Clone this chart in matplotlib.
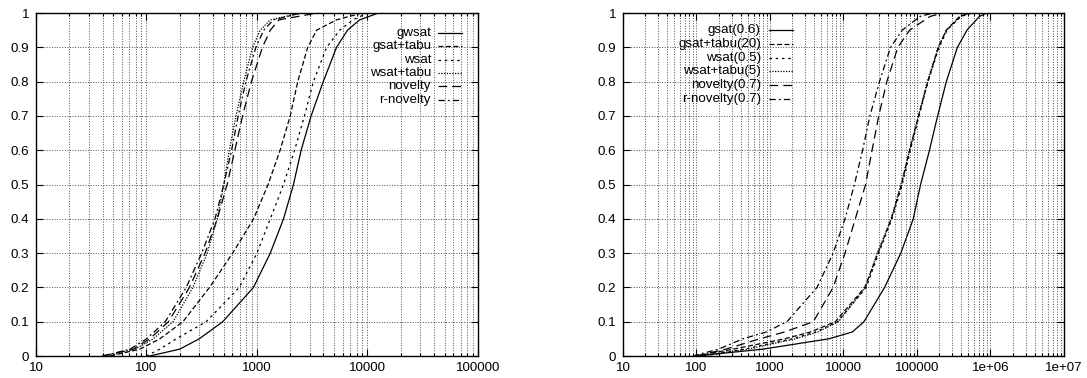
import numpy as np
import matplotlib.pyplot as plt
from matplotlib.ticker import LogLocator, NullFormatter, NullLocator

plt.rcParams['font.family'] = ['Liberation Sans', 'DejaVu Sans']
plt.rcParams['font.size'] = 9.6

# ---- left panel: run-length distributions (x = run length, y = P(solve))
p_left = [0, 0.02, 0.05, 0.1, 0.2, 0.3, 0.4, 0.5, 0.6, 0.7, 0.8, 0.9, 0.95, 0.98, 1.0]
gwsat = [107, 200, 300, 490, 930, 1320, 1740, 2140, 2510, 3090, 3980, 5250, 6600, 8500, 12600]
gsat_tabu = [47, 87, 132, 214, 372, 603, 933, 1260, 1620, 2000, 2340, 2880, 3470, 5250, 8900]
wsat = [100, 132, 186, 347, 692, 1000, 1320, 1740, 2190, 2690, 3240, 4270, 5620, 7400, 10000]
wsat_tabu = [45, 79, 115, 174, 263, 355, 437, 501, 562, 646, 759, 912, 1070, 1320, 2500]
novelty = [40, 76, 107, 158, 245, 339, 437, 537, 631, 741, 891, 1120, 1320, 1580, 3500]
r_novelty = [40, 71, 100, 148, 229, 316, 417, 501, 589, 676, 794, 977, 1150, 1410, 2500]

# ---- right panel
p_right = [0, 0.02, 0.05, 0.07, 0.1, 0.2, 0.3, 0.4, 0.5, 0.6, 0.7, 0.8, 0.9, 0.95, 0.99, 1.0]
gsat_06 = [100, 800, 6300, 13200, 19000, 36300, 60300, 89100, 112000, 148000, 191000,
           251000, 355000, 479000, 708000, 891000]
gsat_tabu_20 = [100, 316, 1580, 3550, 7760, 19500, 29500, 44700, 61700, 79400, 105000,
                141000, 195000, 251000, 380000, 525000]
wsat_05 = [126, 447, 2000, 4170, 8320, 20400, 30200, 45700, 63100, 81300, 107000,
           141000, 200000, 257000, 398000, 562000]
wsat_tabu_5 = [100, 501, 2240, 4470, 8510, 20000, 28800, 44700, 60300, 79400, 105000,
               138000, 195000, 251000, 389000, 537000]
novelty_07 = [100, 251, 724, 1580, 3890, 7240, 10500, 14500, 20000, 24500, 30200,
              38900, 55000, 79400, 151000, 224000]
r_novelty_07 = [89, 200, 427, 891, 1700, 4370, 7240, 10500, 14100, 18200, 22900,
                30900, 43700, 63100, 110000, 166000]

labels_left = ['gwsat', 'gsat+tabu', 'wsat', 'wsat+tabu', 'novelty', 'r-novelty']
labels_right = ['gsat(0.6)', 'gsat+tabu(20)', 'wsat(0.5)', 'wsat+tabu(5)',
                'novelty(0.7)', 'r-novelty(0.7)']

xticks_left = [10, 100, 1000, 10000, 100000]
xlabels_left = ['10', '100', '1000', '10000', '100000']
xticks_right = [10, 100, 1000, 10000, 100000, 1e6, 1e7]
xlabels_right = ['10', '100', '1000', '10000', '100000', '1e+06', '1e+07']
yticks = [0, 0.1, 0.2, 0.3, 0.4, 0.5, 0.6, 0.7, 0.8, 0.9, 1]
ylabels = ['0', '0.1', '0.2', '0.3', '0.4', '0.5', '0.6', '0.7', '0.8', '0.9', '1']

styles = ['-', (0, (4, 2)), (0, (2, 3)), (0, (1, 1.2)), (0, (7, 4)), (0, (5, 2.5, 1.5, 2.5))]

fig = plt.figure(figsize=(10.87, 3.78), dpi=100)
ax1 = fig.add_axes([0.0331, 0.0582, 0.4066, 0.9074])
ax2 = fig.add_axes([0.5731, 0.0582, 0.4057, 0.9074])


def setup(ax, xt, xl):
    ax.set_xscale('log')
    ax.set_xlim(xt[0], xt[-1])
    ax.set_ylim(0, 1)
    ax.set_xticks(xt)
    ax.set_xticklabels(xl)
    ax.xaxis.set_minor_locator(LogLocator(base=10, subs=np.arange(2, 10)))
    ax.xaxis.set_minor_formatter(NullFormatter())
    ax.set_yticks(yticks)
    ax.set_yticklabels(ylabels)
    ax.yaxis.set_minor_locator(NullLocator())
    ax.tick_params(which='both', direction='in', top=True, right=True, width=0.8)
    ax.tick_params(which='major', length=5)
    ax.tick_params(which='minor', length=2.5)
    ax.tick_params(axis='y', pad=5)
    ax.tick_params(axis='x', pad=4)
    ax.grid(True, which='both', axis='x', color='0.3', linestyle=':', linewidth=0.7)
    ax.grid(True, which='major', axis='y', color='0.3', linestyle=':', linewidth=0.7)
    for s in ax.spines.values():
        s.set_linewidth(1.0)


def key(ax, labels, xtext, x0, x1, ytop, dy):
    for i, lab in enumerate(labels):
        y = ytop - i * dy
        ax.text(xtext, y, lab, transform=ax.transAxes, ha='right', va='center')
        ax.plot([x0, x1], [y, y], transform=ax.transAxes, color='black',
                linestyle=styles[i], linewidth=0.9)


setup(ax1, xticks_left, xlabels_left)
for xs, st in zip([gwsat, gsat_tabu, wsat, wsat_tabu, novelty, r_novelty], styles):
    ax1.plot(xs, p_left, color='black', linestyle=st, linewidth=0.9)
key(ax1, labels_left, 0.894, 0.909, 0.964, 0.942, 0.039)

setup(ax2, xticks_right, xlabels_right)
for xs, st in zip([gsat_06, gsat_tabu_20, wsat_05, wsat_tabu_5, novelty_07, r_novelty_07], styles):
    ax2.plot(xs, p_right, color='black', linestyle=st, linewidth=0.9)
key(ax2, labels_right, 0.313, 0.331, 0.385, 0.950, 0.040)

fig.savefig('out.png', dpi=100)
